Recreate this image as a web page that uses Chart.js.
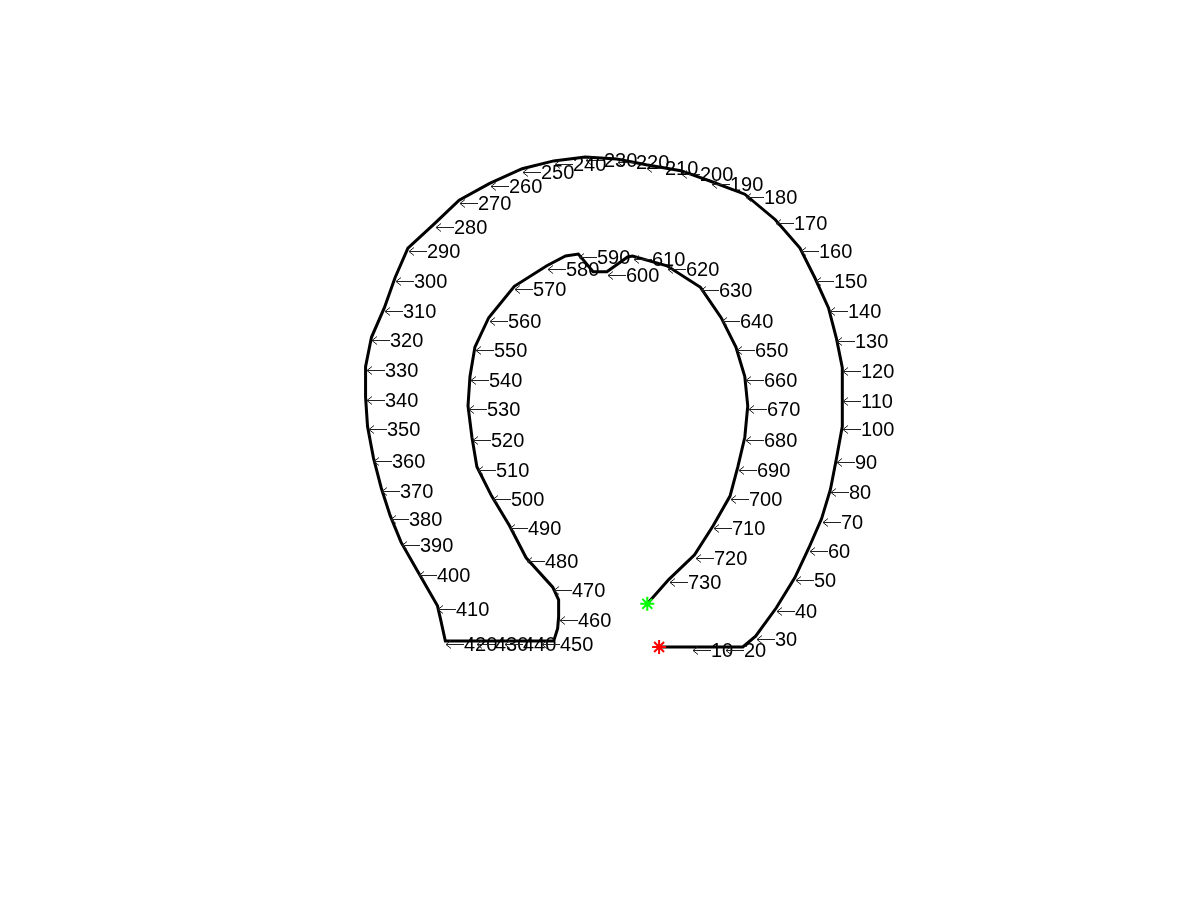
<!DOCTYPE html>
<html>
<head>
<meta charset="utf-8">
<script src="https://cdn.jsdelivr.net/npm/chart.js@4/dist/chart.umd.min.js"></script>
<style>
html,body{margin:0;padding:0;background:#fff;}
#wrap{width:1200px;height:900px;}
</style>
</head>
<body>
<div id="wrap"><canvas id="c" width="1200" height="900"></canvas></div>
<script>
// Boundary trace: point index along the contour and its position (image coordinates)
const pointIndex = [1,10,20,25,30,
  40,50,60,70,80,90,100,110,120,130,
  140,150,160,170,180,190,200,210,220,230,
  240,250,260,270,280,290,300,310,320,330,
  340,350,360,370,380,390,400,410,
  415,420,430,440,450,452,455,460,465,
  470,480,490,500,510,520,530,540,550,560,570,580,
  585,590,595,600,605,
  610,620,630,640,650,660,670,680,690,700,710,720,730,737];
const pointX = [660,693,727,745,758,
  779,798,812,825,834,840,846,846,846,840,
  832,818,803,778,747,713,682,647,617,585,
  553,521,488,457,432,405,392,381,368,362,
  362,364,370,378,387,398,415,435,
  438,443,474,503,540,553,557,558,558,
  552,525,508,490,475,470,466,468,473,487,513,546,
  565,578,593,607,628,
  633,668,702,723,738,747,750,747,740,732,715,696,670,648];
const pointY = [651,651,651,651,640,
  611,580,550,520,490,459,426,397,366,336,
  305,274,244,215,189,176,165,159,153,151,
  155,163,178,195,219,244,274,305,335,365,
  396,426,458,489,517,544,574,609,
  622,645,645,645,645,645,632,620,603,
  590,560,527,497,467,437,405,375,345,315,283,262,
  252,250,268,268,253,
  252,262,284,315,345,375,405,437,467,497,527,557,582,607];
const labelStep = 10;

const path = pointX.map((x,i)=>({x:x, y:pointY[i], idx:pointIndex[i]}));
const startPt = [path[0]];
const endPt = [path[path.length-1]];

const labelPlugin = {
  id:'pointLabels',
  afterDatasetsDraw(chart){
    const ctx = chart.ctx;
    const xs = chart.scales.x, ys = chart.scales.y;
    ctx.save();
    ctx.font = '20px "Liberation Sans", Arial, sans-serif';
    ctx.fillStyle = '#000';
    ctx.textAlign = 'left';
    ctx.textBaseline = 'middle';
    path.forEach(p=>{
      if (p.idx % labelStep !== 0) return;
      const px = Math.round(xs.getPixelForValue(p.x));
      const py = Math.round(ys.getPixelForValue(p.y)) + 3;
      // leftwards arrow
      ctx.strokeStyle = '#222';
      ctx.lineWidth = 1;
      ctx.beginPath();
      ctx.moveTo(px + 1, py + 0.5);
      ctx.lineTo(px + 19, py + 0.5);
      ctx.moveTo(px + 6, py - 3.5);
      ctx.lineTo(px + 1, py + 0.5);
      ctx.lineTo(px + 6, py + 4.5);
      ctx.stroke();
      ctx.fillText(String(p.idx), px + 19, py + 1);
    });
    ctx.restore();
  }
};

new Chart(document.getElementById('c'), {
  type:'scatter',
  data:{datasets:[
    {data:path, showLine:true, borderColor:'#000', borderWidth:3, pointRadius:0, tension:0, fill:false, order:3},
    {data:startPt, pointStyle:'star', pointRadius:7, borderColor:'#ff0000', backgroundColor:'#ff0000', pointBorderWidth:2, showLine:false, order:1},
    {data:endPt, pointStyle:'star', pointRadius:7, borderColor:'#00ff00', backgroundColor:'#00ff00', pointBorderWidth:2, showLine:false, order:1}
  ]},
  options:{
    responsive:false, animation:false, devicePixelRatio:1,
    layout:{padding:0},
    plugins:{legend:{display:false}, tooltip:{enabled:false}, title:{display:false}},
    scales:{
      x:{type:'linear', min:0, max:1200, display:false},
      y:{type:'linear', min:0, max:900, reverse:true, display:false}
    }
  },
  plugins:[labelPlugin]
});
</script>
</body>
</html>
